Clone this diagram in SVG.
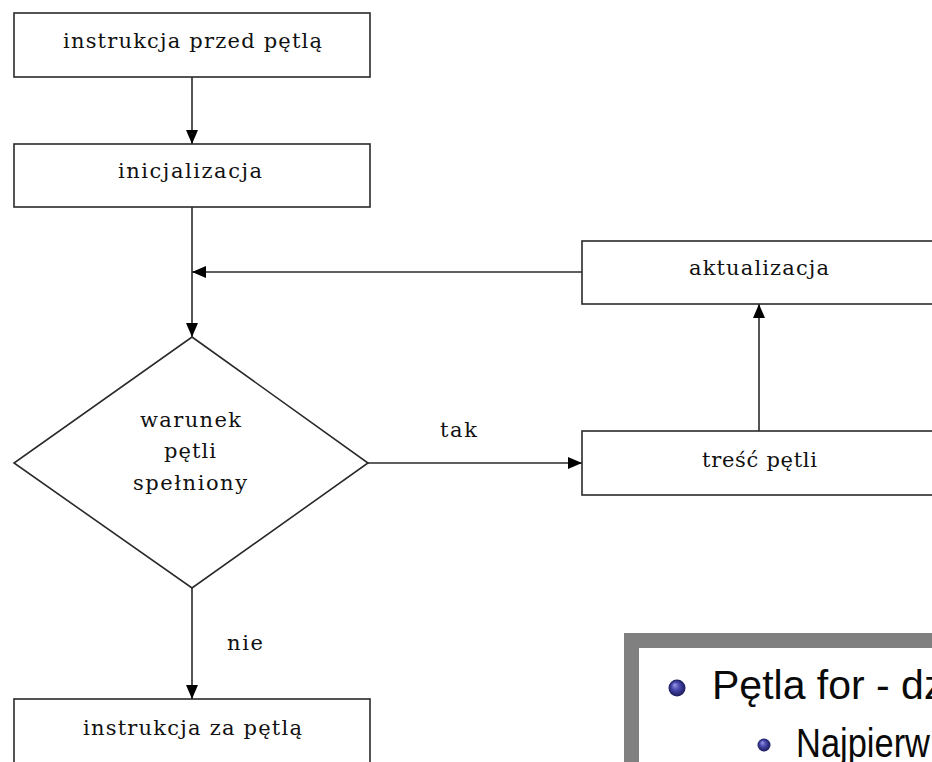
<svg xmlns="http://www.w3.org/2000/svg" width="932" height="762" viewBox="0 0 932 762">
  <style>
    .box { fill: #ffffff; stroke: #2a2a2a; stroke-width: 1.6; }
    .lbl { font-family: "DejaVu Serif", "Liberation Serif", serif; font-size: 21px; fill: #111111; text-anchor: middle; }
    .con { fill: none; stroke: #2a2a2a; stroke-width: 1.6; }
    .slide { font-family: "Liberation Sans", "DejaVu Sans", sans-serif; font-size: 41px; fill: #0a0a0a; }
  </style>
  <defs>
    <marker id="arr" viewBox="0 0 14 12" refX="14" refY="6" markerWidth="14" markerHeight="12" markerUnits="userSpaceOnUse" orient="auto">
      <path d="M0,0 L14,6 L0,12 z" fill="#000000"/>
    </marker>
    <radialGradient id="ball" cx="0.5" cy="0.5" r="0.5" fx="0.35" fy="0.3">
      <stop offset="0" stop-color="#9a9ae6"/>
      <stop offset="0.45" stop-color="#4a4ab0"/>
      <stop offset="1" stop-color="#1a1a5a"/>
    </radialGradient>
  </defs>
  <rect x="0" y="0" width="932" height="762" fill="#ffffff"/>

  <g id="connectors">
    <line class="con" x1="192" y1="77" x2="192" y2="144" marker-end="url(#arr)"/>
    <line class="con" x1="192" y1="207" x2="192" y2="337" marker-end="url(#arr)"/>
    <line class="con" x1="582" y1="272" x2="192" y2="272" marker-end="url(#arr)"/>
    <line class="con" x1="368" y1="463" x2="582" y2="463" marker-end="url(#arr)"/>
    <line class="con" x1="759" y1="431" x2="759" y2="304" marker-end="url(#arr)"/>
    <line class="con" x1="192" y1="588" x2="192" y2="699" marker-end="url(#arr)"/>
    <text class="lbl" x="458.5" y="437" textLength="37">tak</text>
    <text class="lbl" x="245" y="650" textLength="36">nie</text>
  </g>

  <g id="node-przed">
    <rect class="box" x="14" y="13" width="356" height="64"/>
    <text class="lbl" x="192.5" y="48" textLength="259">instrukcja przed pętlą</text>
  </g>
  <g id="node-inicjalizacja">
    <rect class="box" x="14" y="144" width="356" height="63"/>
    <text class="lbl" x="190" y="178" textLength="144">inicjalizacja</text>
  </g>
  <g id="node-warunek">
    <polygon class="box" points="192,337 368,463 192,588 14,463"/>
    <text class="lbl" x="190.5" y="427" textLength="101">warunek</text>
    <text class="lbl" x="190" y="458" textLength="52">pętli</text>
    <text class="lbl" x="190" y="490" textLength="114">spełniony</text>
  </g>
  <g id="node-aktualizacja">
    <rect class="box" x="582" y="241" width="380" height="63"/>
    <text class="lbl" x="759" y="275" textLength="140">aktualizacja</text>
  </g>
  <g id="node-tresc">
    <rect class="box" x="582" y="431" width="380" height="64"/>
    <text class="lbl" x="759.5" y="467" textLength="115">treść pętli</text>
  </g>
  <g id="node-za">
    <rect class="box" x="14" y="699" width="356" height="90"/>
    <text class="lbl" x="192.5" y="735" textLength="219">instrukcja za pętlą</text>
  </g>

  <g id="slide-panel">
    <rect x="624" y="633" width="340" height="160" fill="#808080"/>
    <rect x="639" y="648" width="320" height="140" fill="#ffffff"/>
    <circle cx="677" cy="688" r="8.5" fill="url(#ball)"/>
    <text class="slide" x="712" y="699">Pętla for - dz</text>
    <circle cx="764" cy="745" r="6.5" fill="url(#ball)"/>
    <text class="slide" x="796" y="757" textLength="134" lengthAdjust="spacingAndGlyphs">Najpierw</text>
  </g>
</svg>
